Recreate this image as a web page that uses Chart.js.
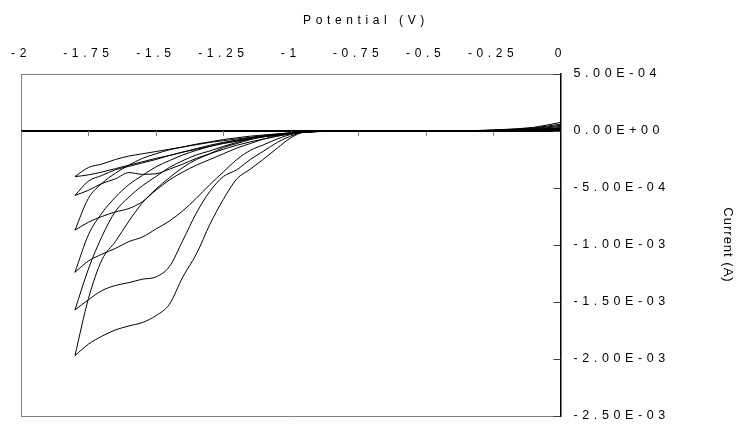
<!DOCTYPE html>
<html>
<head>
<meta charset="utf-8">
<script src="https://cdn.jsdelivr.net/npm/chart.js@4/dist/chart.umd.min.js"></script>
<style>
  html, body { margin: 0; padding: 0; background: #fff; }
  #wrap { width: 738px; height: 425px; }
</style>
</head>
<body>
<div id="wrap"><canvas id="cvChart"></canvas></div>
<script>
// Potential grid (V), shared by every sweep
const potentials = [-1.8, -1.75, -1.7, -1.65, -1.6, -1.55, -1.5, -1.45, -1.4, -1.35, -1.3, -1.25,
    -1.2, -1.15, -1.1, -1.05, -1.0, -0.95, -0.9, -0.7, -0.5, -0.3, -0.2, -0.1, 0];

// Current (A): cathodic sweep (0 -> -1.8 V) and return sweep (-1.8 -> 0 V) per cycle
const cycle1Fwd = [-4.0e-4, -3.85e-4, -3.6e-4, -3.3e-4, -3.0e-4, -2.7e-4, -2.4e-4, -2.15e-4, -1.85e-4, -1.55e-4, -1.25e-4, -1.0e-4,
    -8.0e-5, -6.0e-5, -4.5e-5, -3.0e-5, -1.8e-5, -9e-6, -4e-6, -1e-6, 0, 1e-6, 3e-6, 6e-6, 1.2e-5];
const cycle1Rev = [-4.0e-4, -3.2e-4, -2.9e-4, -2.5e-4, -2.2e-4, -2.0e-4, -1.8e-4, -1.6e-4, -1.4e-4, -1.2e-4, -1.0e-4, -8.5e-5,
    -7.0e-5, -5.5e-5, -4.0e-5, -2.8e-5, -1.7e-5, -9e-6, -4e-6, -1e-6, 0, 2e-6, 5e-6, 1.0e-5, 2.0e-5];

const cycle2Fwd = [-5.65e-4, -5.2e-4, -4.6e-4, -4.2e-4, -3.65e-4, -3.8e-4, -3.75e-4, -3.35e-4, -2.9e-4, -2.4e-4, -2.0e-4, -1.6e-4,
    -1.25e-4, -9.5e-5, -7.0e-5, -4.5e-5, -2.5e-5, -1.0e-5, -4e-6, -1e-6, 0, 1e-6, 3e-6, 7e-6, 1.5e-5];
const cycle2Rev = [-5.65e-4, -4.4e-4, -3.9e-4, -3.4e-4, -3.1e-4, -2.8e-4, -2.5e-4, -2.15e-4, -1.85e-4, -1.6e-4, -1.35e-4, -1.1e-4,
    -9.0e-5, -7.0e-5, -5.0e-5, -3.5e-5, -2.0e-5, -1.0e-5, -4e-6, -1e-6, 0, 2e-6, 7e-6, 1.5e-5, 3.0e-5];

const cycle3Fwd = [-8.7e-4, -8.0e-4, -7.5e-4, -7.1e-4, -6.8e-4, -6.2e-4, -5.2e-4, -4.3e-4, -3.6e-4, -3.0e-4, -2.5e-4, -2.0e-4,
    -1.5e-4, -1.1e-4, -7.0e-5, -4.5e-5, -2.0e-5, -1.0e-5, -3e-6, -1e-6, 0, 1e-6, 4e-6, 8e-6, 1.8e-5];
const cycle3Rev = [-8.7e-4, -5.9e-4, -4.6e-4, -3.7e-4, -3.0e-4, -2.4e-4, -2.0e-4, -1.65e-4, -1.4e-4, -1.15e-4, -9.5e-5, -7.5e-5,
    -6.0e-5, -4.5e-5, -3.5e-5, -2.5e-5, -1.5e-5, -8e-6, -4e-6, -1e-6, 0, 3e-6, 8e-6, 1.8e-5, 4.0e-5];

const cycle4Fwd = [-1.24e-3, -1.14e-3, -1.08e-3, -1.03e-3, -9.7e-4, -9.3e-4, -8.6e-4, -7.9e-4, -7.0e-4, -5.9e-4, -4.7e-4, -3.6e-4,
    -2.5e-4, -1.7e-4, -1.2e-4, -7.0e-5, -3.0e-5, -1.0e-5, -3e-6, -1e-6, 0, 1e-6, 4e-6, 9e-6, 2.0e-5];
const cycle4Rev = [-1.24e-3, -9.1e-4, -7.2e-4, -5.8e-4, -4.7e-4, -3.9e-4, -3.15e-4, -2.6e-4, -2.1e-4, -1.7e-4, -1.35e-4, -1.05e-4,
    -8.5e-5, -6.5e-5, -4.5e-5, -3.0e-5, -2.0e-5, -1.0e-5, -5e-6, -1e-6, 0, 3e-6, 1.0e-5, 2.2e-5, 5.0e-5];

const cycle5Fwd = [-1.57e-3, -1.48e-3, -1.40e-3, -1.355e-3, -1.33e-3, -1.30e-3, -1.28e-3, -1.19e-3, -9.6e-4, -7.2e-4, -5.3e-4, -4.0e-4,
    -3.4e-4, -2.5e-4, -1.75e-4, -1.0e-4, -4.5e-5, -1.0e-5, -3e-6, -1e-6, 0, 1e-6, 4e-6, 1.0e-5, 2.2e-5];
const cycle5Rev = [-1.57e-3, -1.21e-3, -9.25e-4, -7.05e-4, -5.8e-4, -4.8e-4, -4.0e-4, -3.2e-4, -2.6e-4, -2.1e-4, -1.75e-4, -1.35e-4,
    -1.0e-4, -7.0e-5, -5.0e-5, -3.5e-5, -2.2e-5, -1.0e-5, -5e-6, -1e-6, 0, 4e-6, 1.2e-5, 2.7e-5, 6.0e-5];

const cycle6Fwd = [-1.97e-3, -1.87e-3, -1.80e-3, -1.745e-3, -1.71e-3, -1.68e-3, -1.62e-3, -1.52e-3, -1.28e-3, -1.08e-3, -8.2e-4, -6.0e-4,
    -4.2e-4, -3.35e-4, -2.45e-4, -1.5e-4, -6.0e-5, -8e-6, -2e-6, -1e-6, 0, 1e-6, 5e-6, 1.0e-5, 2.5e-5];
const cycle6Rev = [-1.97e-3, -1.47e-3, -1.13e-3, -9.7e-4, -7.9e-4, -6.3e-4, -5.1e-4, -4.1e-4, -3.2e-4, -2.5e-4, -2.0e-4, -1.45e-4,
    -1.1e-4, -7.5e-5, -5.0e-5, -4.0e-5, -2.2e-5, -1.0e-5, -5e-6, -1e-6, 0, 5e-6, 1.5e-5, 3.2e-5, 7.5e-5];

// Axis ticks
const potentialTicks = [-2, -1.75, -1.5, -1.25, -1, -0.75, -0.5, -0.25, 0];
const currentTicks = [5e-4, 0, -5e-4, -1e-3, -1.5e-3, -2e-3, -2.5e-3];

const sweeps = [cycle1Fwd, cycle1Rev, cycle2Fwd, cycle2Rev, cycle3Fwd, cycle3Rev,
    cycle4Fwd, cycle4Rev, cycle5Fwd, cycle5Rev, cycle6Fwd, cycle6Rev];

const fontFamily = "'Liberation Sans', Arial, sans-serif";

// 5.00E-04 style labels
function sciLabel(value) {
    if (Math.abs(value) < 1e-12) value = 0;
    const parts = Number(value).toExponential(2).split('e');
    const exp = parseInt(parts[1], 10);
    const sign = exp < 0 ? '-' : '+';
    return parts[0] + 'E' + sign + String(Math.abs(exp)).padStart(2, '0');
}

function near(a, b) {
    return Math.abs(a - b) < 1e-9;
}

// Spaced-out lettering: potential axis is drawn before the curves,
// the current axis (z: 1) after them, so each gets its own spacing
const spacedText = {
    id: 'spacedText',
    beforeUpdate(chart) { chart.ctx.letterSpacing = '4.6px'; },
    beforeDraw(chart) { chart.ctx.letterSpacing = '4.6px'; },
    afterDatasetsDraw(chart) { chart.ctx.letterSpacing = '5.8px'; }
};

// Small tick marks on the zero line and inside the right axis
const tickMarks = {
    id: 'tickMarks',
    beforeDatasetsDraw(chart) {
        const { ctx, chartArea, scales } = chart;
        const x = scales.x, y = scales.y;
        const y0 = Math.round(y.getPixelForValue(0));
        ctx.save();
        ctx.lineWidth = 1;
        ctx.strokeStyle = '#808080';
        ctx.beginPath();
        potentialTicks.forEach(v => {
            const px = Math.round(x.getPixelForValue(v)) + 0.5;
            ctx.moveTo(px, y0);
            ctx.lineTo(px, y0 + 5);
        });
        ctx.stroke();
        ctx.strokeStyle = '#404040';
        ctx.beginPath();
        currentTicks.forEach(v => {
            const py = Math.round(y.getPixelForValue(v)) + 0.5;
            ctx.moveTo(chartArea.right, py);
            ctx.lineTo(chartArea.right - 7, py);
        });
        ctx.stroke();
        ctx.restore();
    }
};

// Axis captions: "Potential (V)" over the top labels, "Current (A)" on the far right
const captions = {
    id: 'captions',
    afterDraw(chart) {
        const { ctx, chartArea } = chart;
        ctx.save();
        ctx.fillStyle = '#000';
        ctx.textAlign = 'center';
        ctx.textBaseline = 'middle';
        ctx.letterSpacing = '4.6px';
        ctx.font = '12px ' + fontFamily;
        ctx.fillText('Potential (V)', 366, 21);
        ctx.letterSpacing = '1px';
        ctx.font = '13px ' + fontFamily;
        ctx.translate(728, (chartArea.top + chartArea.bottom) / 2);
        ctx.rotate(Math.PI / 2);
        ctx.fillText('Current (A)', 0, 0);
        ctx.restore();
    }
};

const datasets = sweeps.map(function(sweep, i) {
    return {
        label: 'Cycle ' + (Math.floor(i / 2) + 1) + (i % 2 ? ' return' : ' forward'),
        data: potentials.map((v, k) => ({ x: v, y: sweep[k] })),
        showLine: true,
        borderColor: '#000',
        borderWidth: 1,
        pointRadius: 0,
        cubicInterpolationMode: 'monotone'
    };
});

new Chart(document.getElementById('cvChart'), {
    type: 'scatter',
    data: { datasets: datasets },
    options: {
        responsive: true,
        maintainAspectRatio: false,
        animation: false,
        layout: { padding: { left: 21, right: 0, top: 0, bottom: 9 } },
        plugins: {
            legend: { display: false },
            tooltip: { enabled: false },
            title: { display: false }
        },
        scales: {
            x: {
                type: 'linear',
                position: 'top',
                min: -2,
                max: 0,
                afterBuildTicks(scale) {
                    scale.ticks = potentialTicks.map(v => ({ value: v }));
                },
                afterFit(scale) { scale.height = 74; },
                ticks: {
                    color: '#000',
                    font: { family: fontFamily, size: 12 },
                    padding: 0,
                    maxRotation: 0,
                    autoSkip: false,
                    callback: v => String(v)
                },
                grid: {
                    drawTicks: true,
                    tickLength: 13,
                    tickColor: 'rgba(0,0,0,0)',
                    color: ctx => (ctx.tick && near(ctx.tick.value, -2)) ? '#808080' : 'rgba(0,0,0,0)',
                    lineWidth: 1
                },
                border: { color: '#808080', width: 1 }
            },
            y: {
                type: 'linear',
                position: 'right',
                z: 1,
                min: -2.5e-3,
                max: 5e-4,
                afterBuildTicks(scale) {
                    scale.ticks = currentTicks.map(v => ({ value: v }));
                },
                afterFit(scale) { scale.width = 177.5; },
                ticks: {
                    color: '#000',
                    font: { family: fontFamily, size: 12.5 },
                    padding: 0,
                    autoSkip: false,
                    callback: v => sciLabel(v)
                },
                grid: {
                    drawTicks: true,
                    tickLength: 13,
                    tickColor: 'rgba(0,0,0,0)',
                    color: ctx => {
                        if (!ctx.tick) return 'rgba(0,0,0,0)';
                        if (near(ctx.tick.value, 0)) return '#000';
                        if (near(ctx.tick.value, -2.5e-3)) return '#808080';
                        return 'rgba(0,0,0,0)';
                    },
                    lineWidth: ctx => (ctx.tick && near(ctx.tick.value, 0)) ? 2 : 1
                },
                border: { color: '#000', width: 1.5 }
            }
        }
    },
    plugins: [spacedText, tickMarks, captions]
});
</script>
</body>
</html>
